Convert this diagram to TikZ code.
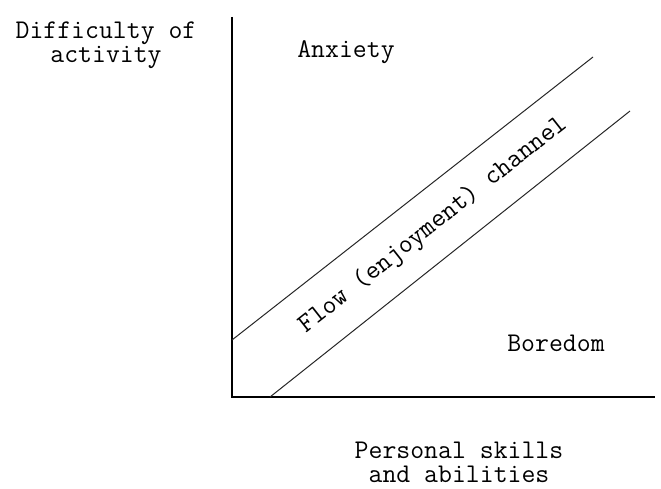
\documentclass[tikz,border=0pt]{standalone}
\usepackage{fontspec}
\usetikzlibrary{positioning}

\begin{document}
\begin{tikzpicture}[x=1pt, y=1pt,
  axis/.style={line width=1.6pt, draw=black},
  bound/.style={line width=1pt, draw=black!85},
  lbl/.style={font=\ttfamily\fontsize{27}{24}\selectfont, align=center, inner sep=0pt}]
  \useasboundingbox (0,0) rectangle (661,488);
  % axes
  \coordinate (o) at (232,91);
  \coordinate (ytop) at (232,471);
  \coordinate (xend) at (655,91);
  \draw[axis] (ytop) -- (o) -- (xend);
  % channel boundaries
  \coordinate (u1) at (232,148);
  \coordinate (u2) at (593,431);
  \coordinate (l1) at (270,91);
  \coordinate (l2) at (630,377);
  \draw[bound] (u1) -- (u2);
  \draw[bound] (l1) -- (l2);
  % labels
  \node[lbl] (ylab) at (106,443) {Difficulty of\\activity};
  \node[lbl] (xlab) at (459,26) {Personal skills\\and abilities};
  \node[lbl] (anx) at (346,436) {Anxiety};
  \node[lbl] (bor) at (556,145) {Boredom};
  \node[lbl, rotate=38.3] (flow) at (433,263) {Flow (enjoyment) channel};
\end{tikzpicture}
\end{document}
